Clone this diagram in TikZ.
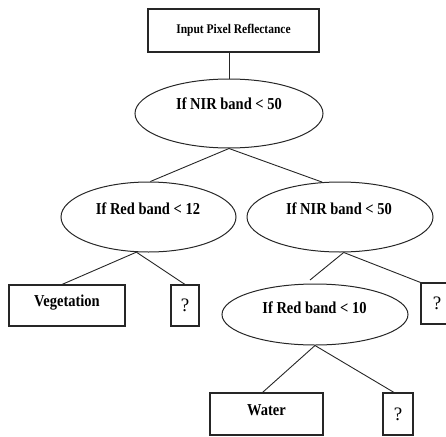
\documentclass[tikz,border=0pt]{standalone}
\usepackage{fontspec}
\setmainfont{Liberation Serif}
\usetikzlibrary{shapes.geometric}
\newcommand{\tallt}[1]{\scalebox{1}[1.15]{#1}}
\begin{document}
\begin{tikzpicture}[x=1pt,y=-1pt,
  every node/.style={inner sep=0pt},
  box/.style={draw=black!85, rectangle, line width=1.1pt},
  ell/.style={draw=black!85, ellipse, line width=1pt},
  lbl/.style={font=\fontsize{14.5}{16}\selectfont\bfseries},
  qm/.style={font=\fontsize{19}{21}\selectfont},
  conn/.style={draw=black!85, line width=0.9pt}]
\useasboundingbox (0,0) rectangle (446,436);
\clip (0,0) rectangle (446,436);
% boxes
\node[box, minimum width=171pt, minimum height=43pt,
      font=\fontsize{11.5}{13}\selectfont\bfseries] (top) at (233.5,30.5) {\tallt{Input Pixel Reflectance}};
% ellipses
\node[ell, minimum width=188pt, minimum height=69pt] (e1) at (229,113.5) {};
\node[lbl] (e1t) at (229,104) {\tallt{If NIR band < 50}};
\node[ell, minimum width=175pt, minimum height=70pt] (e2) at (148.5,217) {};
\node[lbl] (e2t) at (148,209) {\tallt{If Red band < 12}};
\node[ell, minimum width=186pt, minimum height=70pt] (e3) at (340,217) {};
\node[lbl] (e3t) at (339,209) {\tallt{If NIR band < 50}};
\node[ell, minimum width=186pt, minimum height=61pt] (e4) at (315,314.5) {};
\node[lbl] (e4t) at (314.5,308) {\tallt{If Red band < 10}};
% leaves
\node[box, minimum width=116pt, minimum height=41pt] (veg) at (67,305.5) {};
\node[lbl] (vegt) at (67,303) {\tallt{Vegetation}};
\node[box, minimum width=28pt, minimum height=41pt, qm] (q1) at (185,305.5) {?};
\node[box, minimum width=32pt, minimum height=41pt, qm] (rq) at (437,303.5) {?};
\node[box, minimum width=113pt, minimum height=42pt] (wat) at (266.5,414) {};
\node[lbl] (watt) at (266.5,410) {\tallt{Water}};
\node[box, minimum width=30pt, minimum height=42pt, qm] (q3) at (398,414) {?};
\coordinate (fe) at (310,280);
% connectors
\draw[conn] (top.south -| e1.north) -- (e1.north);
\draw[conn] (e1.south) -- (e2.87);
\draw[conn] (e1.south) -- (e3.117);
\draw[conn] (e2.251) -- ([xshift=-5pt]veg.north);
\draw[conn] (e2.251) -- (q1.north);
\draw[conn] (e3.276) -- (fe);
\draw[conn] (e3.276) -- (rq.north west);
\draw[conn] (e4.south) -- ([xshift=-4pt]wat.north);
\draw[conn] (e4.south) -- ([xshift=-4pt]q3.north);
\end{tikzpicture}
\end{document}
